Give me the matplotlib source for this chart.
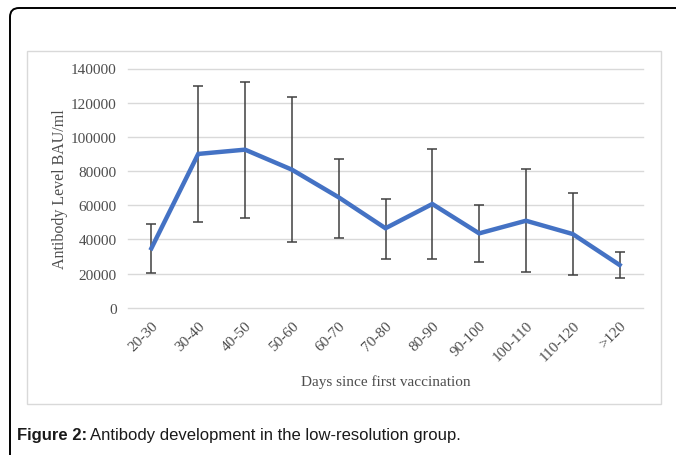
import matplotlib.pyplot as plt
from matplotlib.patches import Rectangle, FancyBboxPatch

# datos
categorias = ['20-30', '30-40', '40-50', '50-60', '60-70', '70-80',
              '80-90', '90-100', '100-110', '110-120', '>120']
media = [34800, 90000, 92500, 80800, 64600, 46500, 60700, 43500, 50900, 43100, 25000]
error_sup = [49200, 130000, 132300, 123300, 87200, 63600, 92700, 60100, 81000, 67100, 32600]
error_inf = [20300, 50000, 52700, 38600, 41000, 28700, 28700, 26800, 20900, 19300, 17400]

yerr = [[m - b for m, b in zip(media, error_inf)],
        [t - m for m, t in zip(media, error_sup)]]

fig = plt.figure(figsize=(6.76, 4.56), dpi=100)
W, H = 676, 456

# marco exterior negro (solo borde izquierdo y superior visibles)
marco = FancyBboxPatch((10, -60), 720, 456 - 9 + 60, boxstyle="round,pad=0,rounding_size=9",
                       transform=None, fill=False, edgecolor='black', linewidth=1.4)
fig.patches.append(marco)

# caja gris del grafico
caja = Rectangle((27 / W, 1 - 405 / H), 634 / W, 353 / H, transform=fig.transFigure,
                 fill=False, edgecolor='#d9d9d9', linewidth=1.0)
fig.patches.append(caja)

ax = fig.add_axes([128 / W, 1 - 308.7 / H, 515 / W, 239.2 / H])
x = list(range(len(categorias)))
ax.errorbar(x, media, yerr=yerr, fmt='none', ecolor='#404040', elinewidth=1.1,
            capsize=3.5, capthick=1.1, zorder=2)
ax.plot(x, media, color='#4472C4', linewidth=3.2, zorder=3, solid_joinstyle='miter')

ax.set_xlim(-0.5, len(categorias) - 0.5)
ax.set_ylim(0, 140000)
ax.set_yticks(range(0, 140001, 20000))
ax.grid(axis='y', color='#d9d9d9', linewidth=1.0)
for g in ax.get_ygridlines():
    g.set_clip_on(False)
ax.set_axisbelow(True)
for s in ax.spines.values():
    s.set_visible(False)

serif = 'Liberation Serif'
ax.set_xticks(x)
ax.set_xticklabels(categorias, rotation=45, ha='right', rotation_mode='anchor',
                   family=serif, fontsize=11, color='#4d4d4d')
ax.tick_params(axis='both', length=0, pad=8)
ax.tick_params(axis='x', pad=8)
for t in ax.get_yticklabels():
    t.set_family(serif)
    t.set_fontsize(11)
    t.set_color('#4d4d4d')

ax.set_ylabel('Antibody Level BAU/ml', family=serif, fontsize=11.5, color='#4d4d4d', labelpad=2)
ax.set_xlabel('Days since first vaccination', family=serif, fontsize=11, color='#4d4d4d', labelpad=8)

# pie de figura
t1 = fig.text(17 / W, 1 - 436 / H, 'Figure 2:', family='Liberation Sans', fontweight='bold',
              fontsize=12, va='center', color='#1a1a1a')
fig.canvas.draw()
bb = t1.get_window_extent()
fig.text((bb.x1 + 3) / W, 1 - 436 / H, 'Antibody development in the low-resolution group.',
         family='Liberation Sans', fontsize=12, va='center', color='#1a1a1a')

fig.savefig('out.png', dpi=100)
